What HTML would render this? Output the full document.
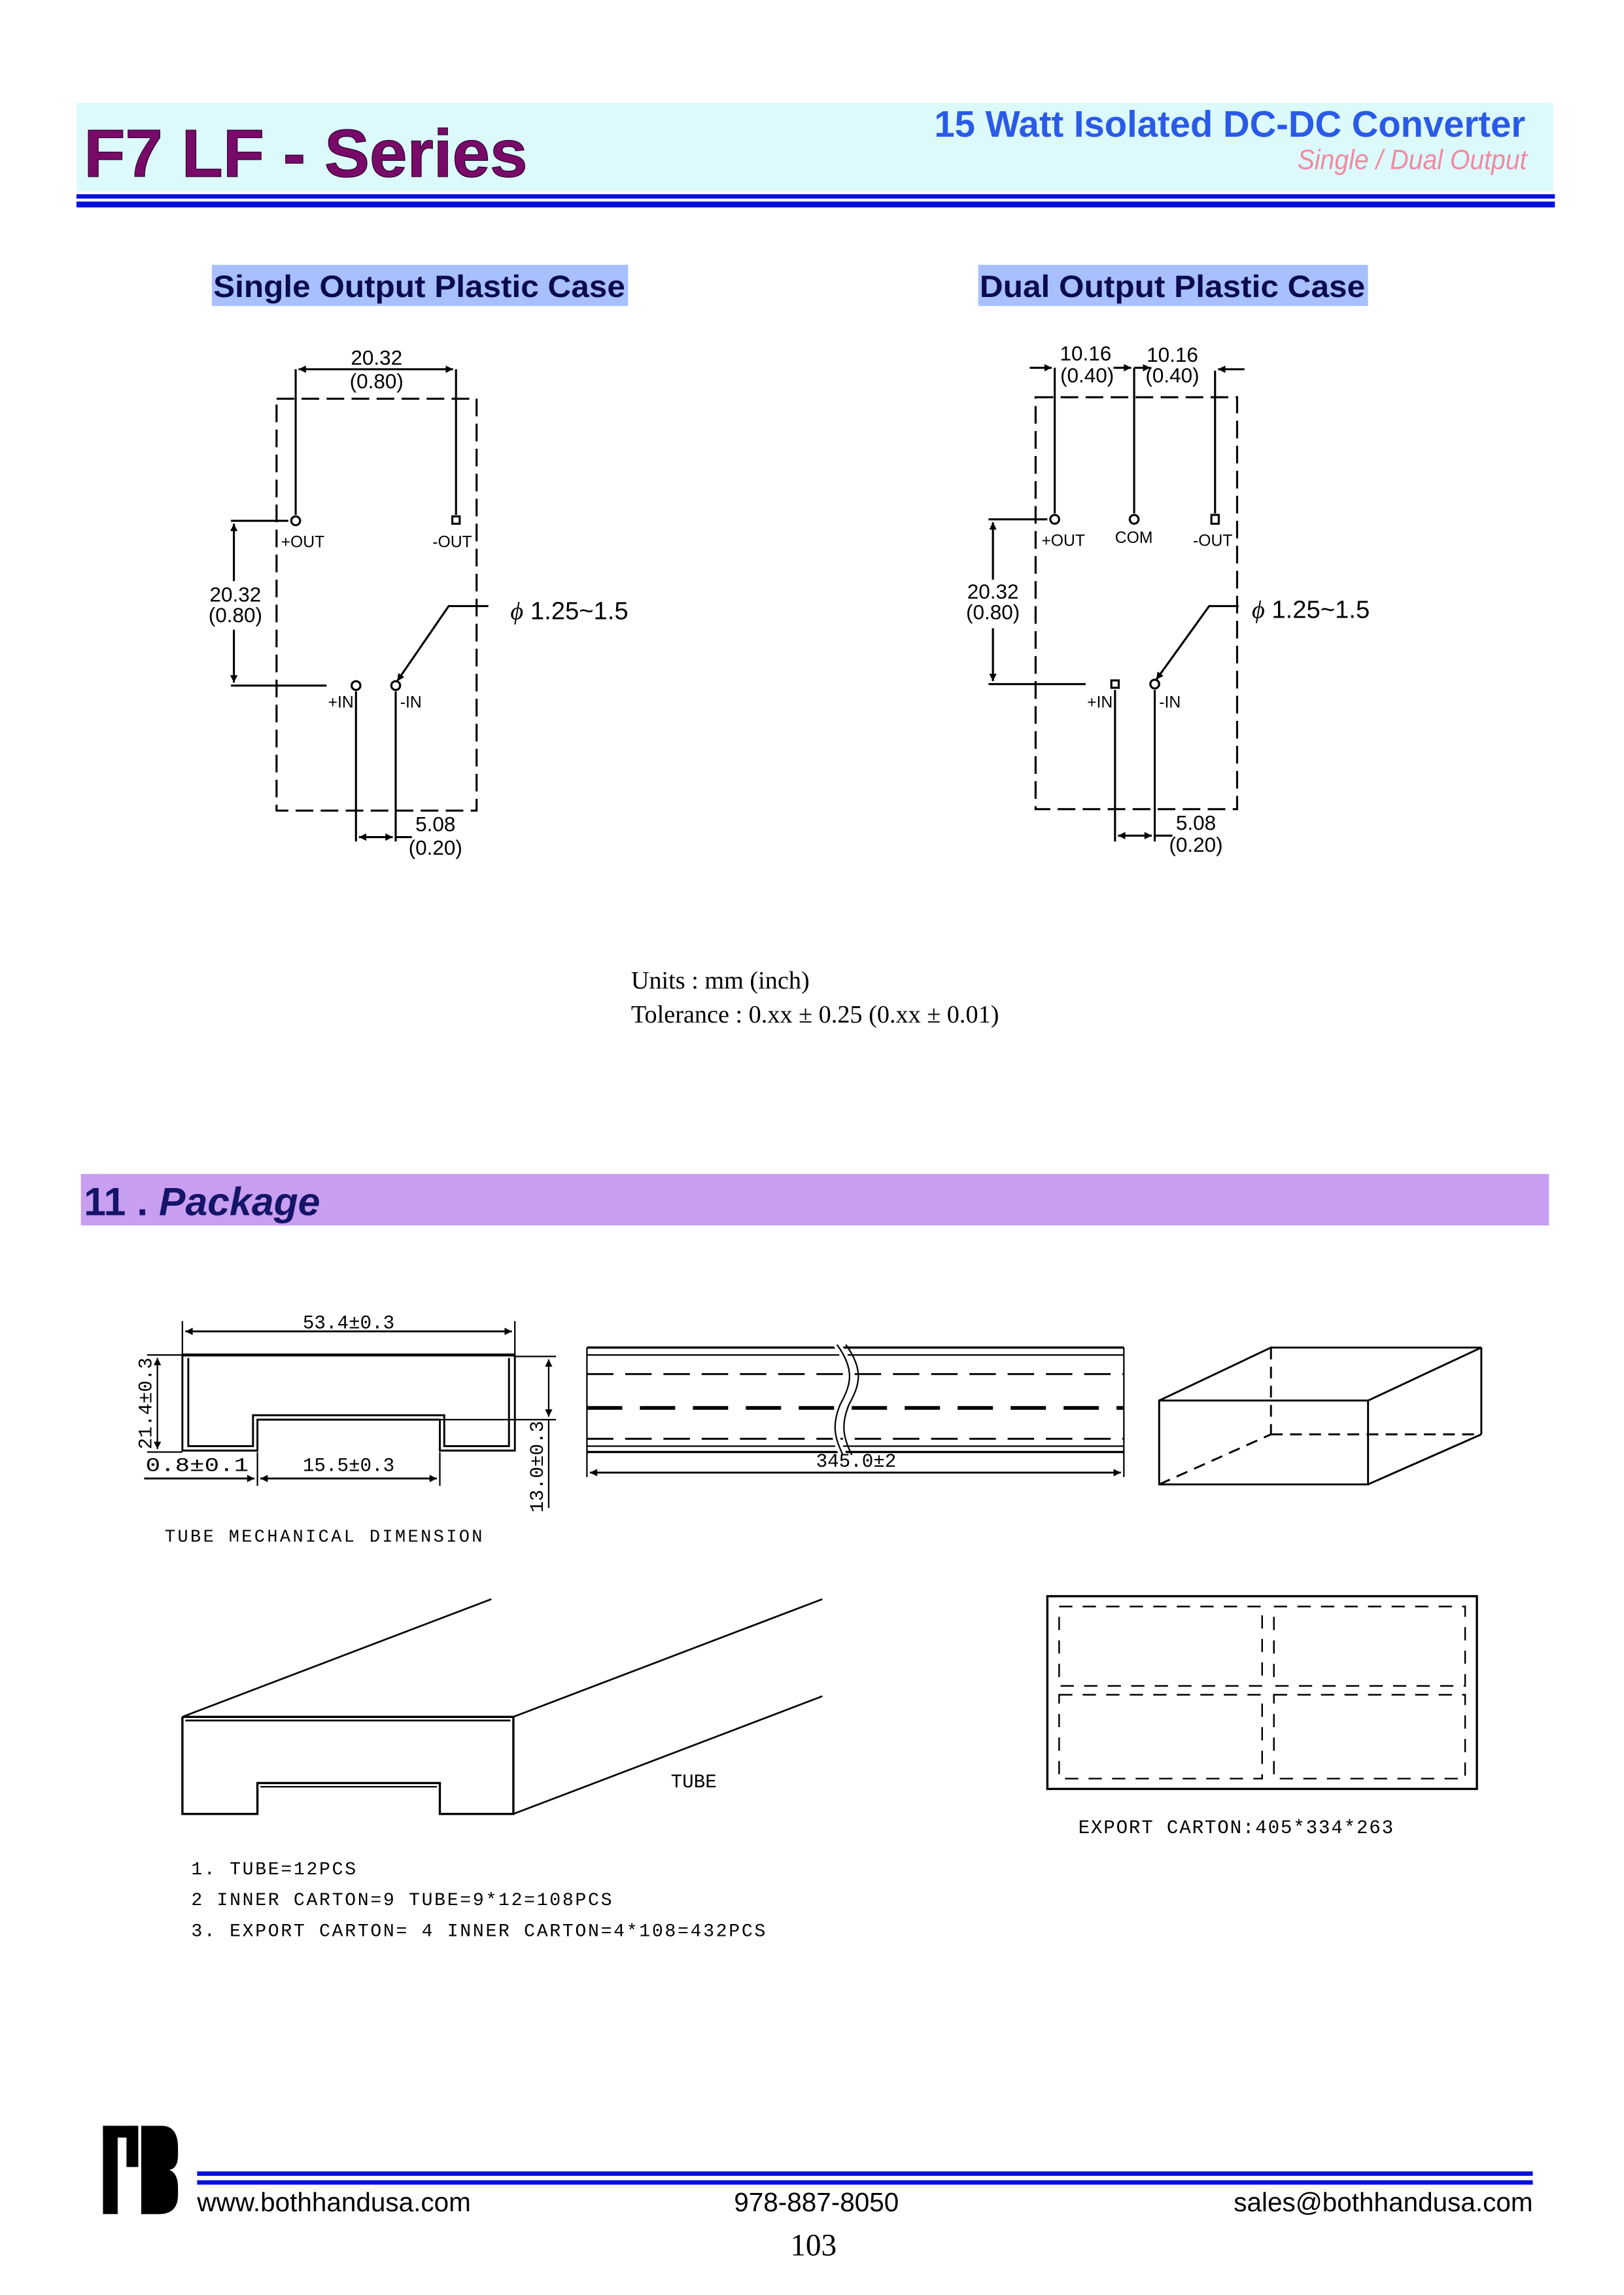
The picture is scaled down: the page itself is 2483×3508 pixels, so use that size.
<!DOCTYPE html>
<html><head><meta charset="utf-8"><style>
html,body{margin:0;padding:0;background:#fff}
svg{display:block}
.a{font-family:"Liberation Sans",sans-serif}
.m{font-family:"Liberation Mono",monospace}
.s{font-family:"Liberation Serif",serif}
</style></head><body>
<svg width="2483" height="3508" viewBox="0 0 1104 1560" preserveAspectRatio="none" xmlns="http://www.w3.org/2000/svg">
<defs>
<marker id="ar" viewBox="0 0 10 10" refX="10" refY="5" markerWidth="7" markerHeight="5" orient="auto-start-reverse" markerUnits="userSpaceOnUse"><path d="M0,0L10,5L0,10z" fill="#000"/></marker>
</defs>
<!-- header -->
<rect x="52" y="70" width="1004" height="60" fill="#dcfafc"/>
<rect x="52" y="132" width="1005" height="3" fill="#0010e0"/>
<rect x="52" y="137" width="1005" height="4" fill="#0010e0"/>
<text x="57" y="120" class="a" font-weight="bold" font-size="46" fill="#7a0a68" stroke="#30003a" stroke-width="0.6">F7 LF - Series</text>
<text x="1037" y="93" class="a" font-weight="bold" font-size="25" fill="#2a5ae8" text-anchor="end">15 Watt Isolated DC-DC Converter</text>
<text x="1038" y="115" class="a" font-style="italic" font-size="19" fill="#f08aa0" text-anchor="end" textLength="156" lengthAdjust="spacingAndGlyphs">Single / Dual Output</text>
<!-- section labels -->
<rect x="144" y="180" width="283" height="28" fill="#a8c0ff"/>
<text x="285" y="202" class="a" font-weight="bold" font-size="21" fill="#0a0a50" text-anchor="middle" textLength="280" lengthAdjust="spacingAndGlyphs">Single Output Plastic Case</text>
<rect x="665" y="180" width="265" height="28" fill="#a8c0ff"/>
<text x="797" y="202" class="a" font-weight="bold" font-size="21" fill="#0a0a50" text-anchor="middle" textLength="262" lengthAdjust="spacingAndGlyphs">Dual Output Plastic Case</text>

<!-- left diagram -->
<g stroke="#000" stroke-width="1.4" fill="none">
<rect x="188" y="271" width="136" height="280" stroke-dasharray="12,5"/>
<line x1="201" y1="251" x2="201" y2="350"/><line x1="310" y1="251" x2="310" y2="350"/>
<line x1="203" y1="251" x2="308" y2="251" marker-start="url(#ar)" marker-end="url(#ar)"/>
<line x1="157" y1="354" x2="196" y2="354"/><line x1="157" y1="466" x2="222" y2="466"/>
<line x1="159" y1="356" x2="159" y2="395" marker-start="url(#ar)"/><line x1="159" y1="428" x2="159" y2="464" marker-end="url(#ar)"/>
<line x1="242" y1="470" x2="242" y2="572"/><line x1="269" y1="470" x2="269" y2="572"/>
<line x1="244" y1="569" x2="267" y2="569" marker-start="url(#ar)" marker-end="url(#ar)"/><line x1="269" y1="569" x2="280" y2="569"/>
<polyline points="332,412 305,412 270,463" marker-end="url(#ar)"/>
<circle cx="201" cy="354" r="3"/><rect x="307.5" y="351" width="5" height="5"/>
<circle cx="242" cy="466" r="3"/><circle cx="269" cy="466" r="3"/>
</g>
<g class="a" font-size="14" fill="#000" text-anchor="middle">
<text x="256" y="248">20.32</text><text x="256" y="264">(0.80)</text>
<text x="160" y="409">20.32</text><text x="160" y="423">(0.80)</text>
<text x="296" y="565">5.08</text><text x="296" y="581">(0.20)</text>
</g>
<g class="a" font-size="11" fill="#000">
<text x="191" y="372">+OUT</text><text x="294" y="372">-OUT</text>
<text x="223" y="481">+IN</text><text x="272" y="481">-IN</text>
</g>
<text x="347" y="421" class="a" font-size="17" fill="#000"><tspan font-style="italic" font-family="Liberation Serif">ϕ</tspan> 1.25~1.5</text>

<!-- right diagram -->
<g stroke="#000" stroke-width="1.4" fill="none">
<rect x="704" y="270" width="137" height="280" stroke-dasharray="12,5"/>
<line x1="717" y1="250" x2="717" y2="349"/><line x1="771" y1="250" x2="771" y2="349"/><line x1="826" y1="252" x2="826" y2="349"/>
<line x1="700" y1="250" x2="715" y2="250" marker-end="url(#ar)"/>
<line x1="757" y1="250" x2="769" y2="250" marker-end="url(#ar)"/>
<line x1="771" y1="250" x2="782" y2="250" marker-end="url(#ar)"/>
<line x1="846" y1="251" x2="828" y2="251" marker-end="url(#ar)"/>
<line x1="672" y1="353" x2="712" y2="353"/><line x1="672" y1="465" x2="738" y2="465"/>
<line x1="675" y1="355" x2="675" y2="394" marker-start="url(#ar)"/><line x1="675" y1="427" x2="675" y2="463" marker-end="url(#ar)"/>
<line x1="758" y1="469" x2="758" y2="572"/><line x1="785" y1="469" x2="785" y2="572"/>
<line x1="760" y1="568" x2="783" y2="568" marker-start="url(#ar)" marker-end="url(#ar)"/><line x1="785" y1="568" x2="797" y2="568"/>
<polyline points="842,412 822,412 786,462" marker-end="url(#ar)"/>
<circle cx="717" cy="353" r="3"/><circle cx="771" cy="353" r="3"/><rect x="823.5" y="350" width="5" height="6"/>
<rect x="755.5" y="462.5" width="5" height="5"/><circle cx="785" cy="465" r="3"/>
</g>
<g class="a" font-size="14" fill="#000" text-anchor="middle">
<text x="738" y="245">10.16</text><text x="739" y="260">(0.40)</text>
<text x="797" y="246">10.16</text><text x="797" y="260">(0.40)</text>
<text x="675" y="407">20.32</text><text x="675" y="421">(0.80)</text>
<text x="813" y="564">5.08</text><text x="813" y="579">(0.20)</text>
</g>
<g class="a" font-size="11" fill="#000">
<text x="708" y="371">+OUT</text><text x="758" y="369">COM</text><text x="811" y="371">-OUT</text>
<text x="739" y="481">+IN</text><text x="788" y="481">-IN</text>
</g>
<text x="851" y="420" class="a" font-size="17" fill="#000"><tspan font-style="italic" font-family="Liberation Serif">ϕ</tspan> 1.25~1.5</text>

<text x="429" y="672" class="s" font-size="17" fill="#000">Units : mm (inch)</text>
<text x="429" y="695" class="s" font-size="17" fill="#000">Tolerance : 0.xx ± 0.25 (0.xx ± 0.01)</text>

<!-- package bar -->
<rect x="55" y="798" width="998" height="35" fill="#c89ef0"/>
<text x="57" y="826" class="a" font-weight="bold" font-size="27" fill="#141468">11 . <tspan font-style="italic">Package</tspan></text>

<!-- tube cross section -->
<g stroke="#000" fill="none">
<polyline stroke-width="2" points="124,921 350,921"/>
<polyline stroke-width="1.3" points="124,921 124,986 175,986 175,965 299,965 299,986 350,986 350,921"/>
<polyline stroke-width="1.3" points="128,923 128,983 172,983 172,962 302,962 302,983 346,983 346,923"/>
<line x1="124" y1="898" x2="124" y2="921" stroke-width="1"/><line x1="350" y1="898" x2="350" y2="921" stroke-width="1"/>
<line x1="126" y1="905" x2="348" y2="905" stroke-width="1.3" marker-start="url(#ar)" marker-end="url(#ar)"/>
<line x1="100" y1="921" x2="124" y2="921" stroke-width="1"/><line x1="100" y1="987" x2="124" y2="987" stroke-width="1"/>
<line x1="107" y1="923" x2="107" y2="985" stroke-width="1" marker-start="url(#ar)" marker-end="url(#ar)"/>
<line x1="350" y1="922" x2="378" y2="922" stroke-width="1"/><line x1="299" y1="965" x2="378" y2="965" stroke-width="1"/>
<line x1="373" y1="924" x2="373" y2="963" stroke-width="1" marker-start="url(#ar)" marker-end="url(#ar)"/>
<line x1="373" y1="965" x2="373" y2="1025" stroke-width="1"/>
<line x1="175" y1="987" x2="175" y2="1010" stroke-width="1"/><line x1="299" y1="987" x2="299" y2="1010" stroke-width="1"/>
<line x1="98" y1="1005" x2="173" y2="1005" stroke-width="1.3" marker-end="url(#ar)"/>
<line x1="177" y1="1005" x2="297" y2="1005" stroke-width="1.3" marker-start="url(#ar)" marker-end="url(#ar)"/>
</g>
<g class="m" font-size="13" fill="#000">
<text x="237" y="903" text-anchor="middle">53.4±0.3</text>
<text x="99" y="1000" textLength="70" lengthAdjust="spacingAndGlyphs">0.8±0.1</text>
<text x="237" y="1000" text-anchor="middle">15.5±0.3</text>
<text transform="translate(103,954) rotate(-90)" text-anchor="middle">21.4±0.3</text>
<text transform="translate(369,997) rotate(-90)" text-anchor="middle">13.0±0.3</text>
<text x="112" y="1048" letter-spacing="1.5" font-size="12">TUBE MECHANICAL DIMENSION</text>
</g>

<!-- tube side view -->
<g stroke="#000" fill="none">
<line x1="399" y1="916" x2="764" y2="916" stroke-width="1.5"/><line x1="399" y1="921" x2="764" y2="921" stroke-width="1"/>
<line x1="399" y1="934" x2="764" y2="934" stroke-width="1.3" stroke-dasharray="18,8"/>
<line x1="399" y1="957" x2="764" y2="957" stroke-width="2.5" stroke-dasharray="24,12"/>
<line x1="399" y1="978" x2="764" y2="978" stroke-width="1.3" stroke-dasharray="18,8"/>
<line x1="399" y1="983" x2="764" y2="983" stroke-width="1"/><line x1="399" y1="987" x2="764" y2="987" stroke-width="1.5"/>
<line x1="399" y1="916" x2="399" y2="1004" stroke-width="1"/><line x1="764" y1="916" x2="764" y2="1004" stroke-width="1"/>
<path d="M569,914 C582,932 578,942 571,955 C565,970 568,978 573,989" stroke="#fff" stroke-width="5"/>
<path d="M569,914 C582,932 578,942 571,955 C565,970 568,978 573,989" stroke-width="1"/>
<path d="M575,914 C588,932 584,942 577,955 C571,970 574,978 579,989" stroke-width="1"/>
<line x1="401" y1="1001" x2="762" y2="1001" stroke-width="1.3" marker-start="url(#ar)" marker-end="url(#ar)"/>
</g>
<text x="582" y="997" class="m" font-size="13" fill="#000" text-anchor="middle">345.0±2</text>

<!-- box -->
<g stroke="#000" fill="none" stroke-width="1.3">
<rect x="788" y="952" width="142" height="57"/>
<polyline points="788,952 864,916 1007,916 930,952"/>
<line x1="930" y1="1009" x2="1007" y2="975"/><line x1="1007" y1="916" x2="1007" y2="975"/>
<line x1="864" y1="916" x2="864" y2="975" stroke-dasharray="8,5"/>
<line x1="864" y1="975" x2="1007" y2="975" stroke-dasharray="8,5"/>
<line x1="788" y1="1009" x2="864" y2="975" stroke-dasharray="8,5"/>
</g>

<!-- 3d tube -->
<g stroke="#000" fill="none">
<polyline stroke-width="1.5" points="124,1167 124,1233 175,1233 175,1212 299,1212 299,1233 349,1233 349,1167 124,1167"/>
<line x1="126" y1="1169.5" x2="347" y2="1169.5" stroke-width="1.2"/>
<line x1="177" y1="1214.5" x2="297" y2="1214.5" stroke-width="1"/>
<line x1="124" y1="1167" x2="334" y2="1087" stroke-width="1.2"/>
<line x1="349" y1="1167" x2="559" y2="1087" stroke-width="1.2"/>
<line x1="349" y1="1233" x2="559" y2="1153" stroke-width="1.2"/>
</g>
<text x="456" y="1215" class="m" font-size="13" fill="#000">TUBE</text>

<!-- export carton -->
<g stroke="#000" fill="none">
<rect x="712" y="1085" width="292" height="131" stroke-width="1.5"/>
<rect x="720" y="1092" width="138" height="54" stroke-width="1.1" stroke-dasharray="9,7"/>
<rect x="866" y="1092" width="130" height="54" stroke-width="1.1" stroke-dasharray="9,7"/>
<rect x="720" y="1152" width="138" height="57" stroke-width="1.1" stroke-dasharray="9,7"/>
<rect x="866" y="1152" width="130" height="57" stroke-width="1.1" stroke-dasharray="9,7"/>
</g>
<text x="733" y="1246" class="m" font-size="13" fill="#000" letter-spacing="0.8">EXPORT CARTON:405*334*263</text>

<g class="m" font-size="12.5" fill="#000" letter-spacing="1.2">
<text x="130" y="1274">1. TUBE=12PCS</text>
<text x="130" y="1295">2 INNER CARTON=9 TUBE=9*12=108PCS</text>
<text x="130" y="1316">3. EXPORT CARTON= 4 INNER CARTON=4*108=432PCS</text>
</g>

<!-- footer -->
<g fill="#000">
<rect x="70" y="1445" width="10" height="60"/>
<rect x="70" y="1445" width="22" height="8"/>
<rect x="86" y="1445" width="8" height="28"/>
<path d="M96,1445 H110 Q121,1445 121,1460 V1465 Q121,1474 115,1475 Q121,1477 121,1487 V1492 Q121,1505 108,1505 H96 Z"/>
</g>
<rect x="134" y="1476" width="908" height="3" fill="#0010e0"/>
<rect x="134" y="1482" width="908" height="3" fill="#0010e0"/>
<g class="a" font-size="18" fill="#000">
<text x="134" y="1503">www.bothhandusa.com</text>
<text x="555" y="1503" text-anchor="middle">978-887-8050</text>
<text x="1042" y="1503" text-anchor="end">sales@bothhandusa.com</text>
</g>
<text x="553" y="1533" class="s" font-size="21" fill="#000" text-anchor="middle">103</text>
</svg>
</body></html>
